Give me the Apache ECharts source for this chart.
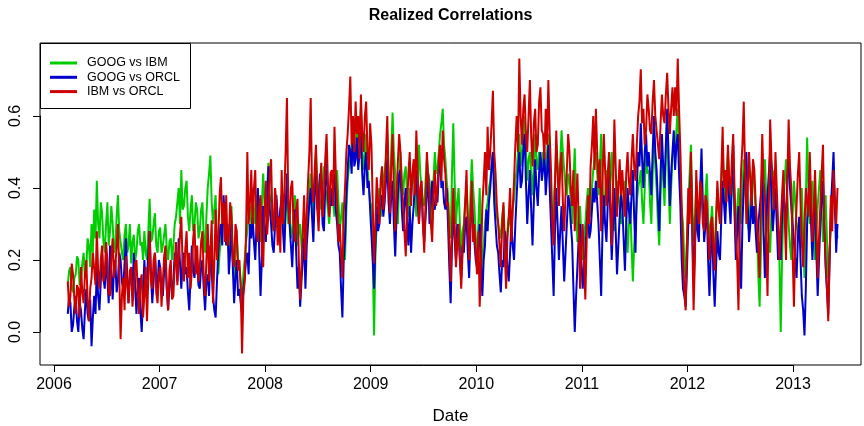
<!DOCTYPE html>
<html>
<head>
<meta charset="utf-8">
<title>Realized Correlations</title>
<script src="https://cdn.jsdelivr.net/npm/echarts@6/dist/echarts.min.js"></script>
<style>
  html, body { margin: 0; padding: 0; background: #ffffff; }
  #chart { width: 864px; height: 426px; }
</style>
</head>
<body>
<div id="chart"></div>
<script>
// Realized correlation series, one value every 0.0125 year from 2006.13 (20 values per row = one quarter year)
const startYear = 2006.13;
const stepYears = 0.0125;

// GOOG vs IBM
const googIbm = [
  0.13,0.17,0.18,0.12,0.11,0.15,0.16,0.21,0.20,0.13,0.14,0.19,0.22,0.15,0.17,0.26,0.24,0.18,0.30,0.22,   // 2006.13
  0.34,0.26,0.42,0.30,0.26,0.36,0.33,0.25,0.22,0.30,0.36,0.24,0.28,0.35,0.30,0.22,0.24,0.32,0.38,0.28,
  0.28,0.22,0.20,0.27,0.30,0.22,0.24,0.30,0.19,0.25,0.27,0.20,0.22,0.28,0.30,0.24,0.25,0.20,0.28,0.22,
  0.20,0.28,0.37,0.25,0.26,0.30,0.33,0.24,0.22,0.28,0.29,0.22,0.24,0.27,0.30,0.23,0.20,0.25,0.26,0.20,
  0.24,0.30,0.32,0.36,0.40,0.30,0.45,0.34,0.35,0.40,0.42,0.32,0.28,0.34,0.38,0.28,0.30,0.36,0.34,0.26,   // 2007.13
  0.28,0.34,0.36,0.26,0.22,0.32,0.40,0.44,0.49,0.36,0.30,0.34,0.38,0.24,0.16,0.22,0.26,0.30,0.35,0.28,
  0.30,0.26,0.22,0.30,0.35,0.20,0.14,0.22,0.26,0.20,0.18,0.14,0.10,0.16,0.20,0.25,0.28,0.32,0.35,0.30,
  0.40,0.34,0.30,0.38,0.36,0.30,0.25,0.35,0.44,0.36,0.32,0.40,0.47,0.36,0.38,0.30,0.28,0.36,0.34,0.28,
  0.30,0.34,0.36,0.30,0.26,0.34,0.40,0.30,0.32,0.26,0.28,0.34,0.38,0.30,0.24,0.28,0.30,0.24,0.20,0.28,   // 2008.13
  0.26,0.30,0.35,0.40,0.44,0.36,0.30,0.42,0.50,0.42,0.40,0.36,0.34,0.40,0.46,0.40,0.38,0.34,0.30,0.36,
  0.40,0.36,0.32,0.40,0.45,0.36,0.28,0.32,0.36,0.26,0.20,0.34,0.42,0.46,0.48,0.52,0.55,0.48,0.50,0.56,
  0.50,0.56,0.62,0.50,0.45,0.50,0.55,0.46,0.40,0.36,0.35,0.20,-0.01,0.22,0.30,0.36,0.40,0.32,0.34,0.42,
  0.42,0.48,0.55,0.44,0.36,0.50,0.61,0.50,0.44,0.36,0.30,0.42,0.50,0.42,0.38,0.44,0.46,0.38,0.32,0.40,   // 2009.13
  0.38,0.42,0.45,0.38,0.32,0.44,0.52,0.44,0.40,0.36,0.35,0.42,0.48,0.44,0.42,0.36,0.30,0.42,0.50,0.44,
  0.45,0.50,0.55,0.58,0.62,0.52,0.48,0.42,0.38,0.30,0.26,0.44,0.58,0.42,0.30,0.36,0.40,0.30,0.22,0.28,
  0.30,0.36,0.40,0.32,0.25,0.38,0.48,0.40,0.35,0.26,0.20,0.30,0.40,0.26,0.15,0.24,0.30,0.34,0.36,0.40,
  0.42,0.46,0.50,0.42,0.36,0.32,0.30,0.28,0.26,0.32,0.35,0.26,0.20,0.28,0.32,0.30,0.28,0.34,0.37,0.42,   // 2010.13
  0.45,0.50,0.55,0.46,0.50,0.56,0.60,0.50,0.42,0.48,0.50,0.44,0.38,0.46,0.55,0.48,0.45,0.50,0.50,0.46,
  0.50,0.46,0.42,0.50,0.55,0.42,0.35,0.30,0.30,0.42,0.52,0.46,0.40,0.48,0.56,0.50,0.45,0.40,0.38,0.44,
  0.42,0.36,0.30,0.42,0.51,0.36,0.25,0.30,0.35,0.26,0.20,0.26,0.30,0.36,0.40,0.34,0.32,0.40,0.45,0.48,
  0.50,0.44,0.38,0.46,0.55,0.42,0.30,0.38,0.45,0.40,0.36,0.44,0.50,0.36,0.28,0.36,0.42,0.38,0.35,0.30,   // 2011.13
  0.32,0.38,0.42,0.30,0.22,0.30,0.36,0.24,0.14,0.24,0.30,0.36,0.40,0.42,0.45,0.36,0.30,0.40,0.50,0.44,
  0.45,0.36,0.30,0.44,0.55,0.46,0.40,0.30,0.24,0.38,0.50,0.42,0.35,0.50,0.60,0.42,0.30,0.40,0.48,0.52,
  0.50,0.56,0.62,0.50,0.40,0.34,0.30,0.20,0.15,0.26,0.36,0.44,0.52,0.36,0.25,0.32,0.40,0.34,0.30,0.36,
  0.38,0.34,0.30,0.38,0.44,0.32,0.25,0.30,0.35,0.26,0.20,0.32,0.40,0.34,0.30,0.42,0.50,0.42,0.36,0.44,   // 2012.13
  0.50,0.42,0.35,0.40,0.45,0.34,0.25,0.34,0.40,0.34,0.30,0.40,0.48,0.40,0.36,0.30,0.28,0.36,0.42,0.46,
  0.40,0.34,0.28,0.16,0.07,0.22,0.35,0.42,0.48,0.38,0.30,0.26,0.22,0.34,0.45,0.40,0.38,0.34,0.30,0.20,
  0.00,0.20,0.35,0.42,0.48,0.38,0.30,0.24,0.20,0.32,0.42,0.36,0.30,0.28,0.25,0.32,0.40,0.26,0.15,0.36,
  0.54,0.40,0.30,0.36,0.42,0.30,0.20,0.28,0.35,0.40,0.45,0.34,0.25,0.32,0.38,0.26,0.15,0.22,0.30,0.36,   // 2013.13
  0.40,0.34,0.30,0.26
];

// GOOG vs ORCL
const googOrcl = [
  0.05,0.10,0.08,0.00,0.02,0.07,0.10,0.03,0.00,0.08,0.06,0.01,-0.02,0.06,0.12,0.05,0.03,0.09,-0.04,0.04,   // 2006.13
  0.10,0.05,0.18,0.10,0.06,0.14,0.22,0.15,0.12,0.20,0.15,0.08,0.24,0.16,0.09,0.18,0.20,0.11,0.14,0.22,
  0.20,0.14,0.12,0.19,0.26,0.16,0.08,0.15,0.18,0.10,0.22,0.13,0.05,0.12,0.15,0.06,0.00,0.10,0.20,0.12,
  0.15,0.22,0.28,0.16,0.08,0.14,0.22,0.15,0.12,0.20,0.18,0.11,0.10,0.17,0.20,0.12,0.06,0.13,0.16,0.10,
  0.14,0.22,0.20,0.14,0.26,0.19,0.12,0.20,0.22,0.16,0.18,0.11,0.06,0.15,0.24,0.17,0.15,0.22,0.20,0.13,      // 2007.13
  0.12,0.18,0.20,0.12,0.06,0.14,0.16,0.10,0.24,0.17,0.10,0.06,0.04,0.14,0.22,0.28,0.30,0.24,0.38,0.30,
  0.24,0.30,0.16,0.22,0.30,0.18,0.08,0.15,0.20,0.10,0.12,0.08,0.05,0.12,0.15,0.20,0.22,0.16,0.30,0.26,
  0.32,0.25,0.20,0.30,0.40,0.22,0.10,0.20,0.35,0.28,0.25,0.36,0.46,0.34,0.30,0.24,0.22,0.30,0.38,0.32,
  0.28,0.34,0.38,0.28,0.22,0.34,0.44,0.36,0.30,0.24,0.18,0.28,0.34,0.22,0.12,0.18,0.07,0.14,0.20,0.26,      // 2008.13
  0.12,0.24,0.30,0.36,0.40,0.32,0.25,0.38,0.46,0.34,0.36,0.44,0.42,0.30,0.28,0.40,0.48,0.38,0.33,0.40,
  0.35,0.40,0.44,0.34,0.30,0.24,0.22,0.12,0.04,0.20,0.26,0.38,0.45,0.52,0.50,0.44,0.58,0.46,0.48,0.54,
  0.45,0.50,0.56,0.44,0.38,0.46,0.50,0.40,0.42,0.34,0.27,0.20,0.12,0.24,0.35,0.28,0.30,0.36,0.38,0.32,
  0.36,0.42,0.48,0.36,0.30,0.38,0.42,0.30,0.21,0.32,0.38,0.44,0.45,0.34,0.28,0.36,0.40,0.30,0.24,0.35,      // 2009.13
  0.22,0.30,0.35,0.42,0.45,0.36,0.30,0.38,0.40,0.30,0.25,0.32,0.38,0.44,0.30,0.36,0.42,0.35,0.34,0.40,
  0.36,0.44,0.50,0.40,0.42,0.36,0.34,0.40,0.30,0.18,0.08,0.24,0.35,0.26,0.20,0.30,0.28,0.20,0.15,0.24,
  0.22,0.30,0.32,0.22,0.15,0.28,0.38,0.30,0.25,0.20,0.18,0.24,0.30,0.18,0.10,0.20,0.24,0.34,0.28,0.36,
  0.40,0.46,0.50,0.36,0.30,0.24,0.22,0.16,0.11,0.20,0.18,0.28,0.25,0.18,0.14,0.22,0.30,0.24,0.20,0.30,      // 2010.13
  0.38,0.45,0.50,0.40,0.42,0.50,0.55,0.42,0.30,0.38,0.45,0.34,0.24,0.36,0.48,0.40,0.35,0.44,0.50,0.42,
  0.45,0.50,0.38,0.44,0.52,0.40,0.30,0.20,0.10,0.28,0.40,0.30,0.20,0.28,0.35,0.24,0.14,0.22,0.30,0.38,
  0.36,0.30,0.25,0.12,0.00,0.10,0.18,0.26,0.30,0.20,0.12,0.18,0.22,0.30,0.35,0.26,0.28,0.34,0.40,0.36,
  0.42,0.36,0.30,0.20,0.10,0.28,0.38,0.30,0.25,0.36,0.45,0.32,0.20,0.30,0.40,0.28,0.16,0.24,0.32,0.38,      // 2011.13
  0.35,0.26,0.17,0.30,0.40,0.34,0.30,0.38,0.45,0.32,0.22,0.40,0.50,0.46,0.58,0.48,0.40,0.50,0.55,0.46,
  0.50,0.44,0.38,0.50,0.60,0.50,0.45,0.36,0.28,0.44,0.55,0.46,0.40,0.52,0.62,0.50,0.35,0.44,0.50,0.56,
  0.45,0.52,0.55,0.44,0.35,0.20,0.12,0.10,0.07,0.18,0.30,0.38,0.45,0.30,0.14,0.24,0.35,0.28,0.25,0.40,
  0.51,0.36,0.25,0.30,0.35,0.20,0.10,0.22,0.30,0.16,0.07,0.18,0.28,0.22,0.20,0.32,0.42,0.36,0.30,0.40,      // 2012.13
  0.45,0.36,0.30,0.42,0.52,0.34,0.20,0.28,0.35,0.22,0.12,0.30,0.40,0.46,0.50,0.36,0.25,0.30,0.38,0.30,
  0.35,0.28,0.22,0.30,0.30,0.38,0.45,0.28,0.15,0.30,0.38,0.44,0.50,0.36,0.28,0.34,0.40,0.30,0.20,0.28,
  0.20,0.32,0.40,0.34,0.30,0.42,0.50,0.40,0.35,0.30,0.25,0.20,0.15,0.26,0.32,0.20,0.10,0.06,-0.01,0.12,
  0.30,0.38,0.45,0.30,0.20,0.30,0.38,0.22,0.10,0.20,0.30,0.36,0.42,0.30,0.18,0.12,0.05,0.20,0.35,0.42,      // 2013.13
  0.50,0.36,0.22,0.30
];

// IBM vs ORCL
const ibmOrcl = [
  0.14,0.07,0.10,0.19,0.16,0.09,0.05,0.13,0.12,0.04,0.18,0.11,0.08,0.16,0.20,0.09,0.03,0.12,0.15,0.22,      // 2006.13
  0.22,0.13,0.28,0.17,0.12,0.20,0.24,0.14,0.16,0.25,0.20,0.11,0.10,0.21,0.26,0.15,0.18,0.24,0.30,0.16,
  -0.02,0.10,0.15,0.06,0.21,0.13,0.08,0.17,0.18,0.07,0.12,0.19,0.20,0.11,0.05,0.14,0.16,0.04,0.10,0.18,
  0.03,0.15,0.28,0.14,0.12,0.20,0.22,0.11,0.08,0.16,0.18,0.07,0.14,0.21,0.24,0.12,0.06,0.17,0.20,0.09,
  0.10,0.19,0.25,0.13,0.20,0.27,0.32,0.18,0.14,0.23,0.28,0.15,0.22,0.12,0.17,0.26,0.30,0.16,0.24,0.14,      // 2007.13
  0.18,0.25,0.28,0.15,0.10,0.20,0.30,0.14,0.22,0.31,0.08,0.19,0.34,0.20,0.26,0.38,0.43,0.30,0.36,0.25,
  0.38,0.24,0.26,0.36,0.32,0.20,0.18,0.30,0.28,0.17,0.20,0.12,-0.06,0.10,0.14,0.27,0.50,0.30,0.36,0.45,
  0.30,0.40,0.45,0.28,0.25,0.35,0.38,0.22,0.18,0.33,0.42,0.27,0.33,0.44,0.48,0.31,0.28,0.40,0.36,0.24,
  0.32,0.22,0.45,0.30,0.38,0.50,0.65,0.36,0.30,0.40,0.42,0.30,0.25,0.34,0.37,0.20,0.09,0.18,0.28,0.38,      // 2008.13
  0.20,0.33,0.42,0.50,0.65,0.40,0.36,0.45,0.52,0.34,0.28,0.40,0.47,0.32,0.38,0.48,0.55,0.42,0.32,0.44,
  0.45,0.35,0.57,0.44,0.36,0.25,0.30,0.22,0.15,0.33,0.40,0.50,0.55,0.62,0.71,0.52,0.60,0.50,0.64,0.55,
  0.60,0.48,0.66,0.55,0.50,0.60,0.64,0.50,0.45,0.58,0.52,0.35,0.19,0.30,0.43,0.36,0.30,0.42,0.46,0.34,
  0.38,0.50,0.60,0.42,0.33,0.46,0.55,0.40,0.28,0.38,0.47,0.55,0.50,0.40,0.36,0.28,0.21,0.35,0.44,0.50,      // 2009.13
  0.35,0.44,0.48,0.38,0.56,0.45,0.30,0.40,0.42,0.30,0.22,0.36,0.50,0.42,0.38,0.30,0.25,0.38,0.45,0.35,
  0.40,0.48,0.52,0.42,0.56,0.48,0.44,0.35,0.36,0.25,0.14,0.28,0.40,0.30,0.18,0.24,0.30,0.20,0.12,0.22,
  0.28,0.36,0.45,0.30,0.20,0.32,0.42,0.25,0.30,0.22,0.16,0.28,0.07,0.20,0.35,0.42,0.50,0.38,0.57,0.45,
  0.50,0.58,0.67,0.50,0.44,0.35,0.30,0.24,0.18,0.30,0.36,0.22,0.12,0.26,0.32,0.40,0.25,0.34,0.42,0.52,      // 2010.13
  0.60,0.50,0.76,0.60,0.52,0.62,0.66,0.55,0.50,0.60,0.70,0.54,0.46,0.58,0.62,0.50,0.52,0.64,0.68,0.56,
  0.55,0.48,0.62,0.52,0.70,0.55,0.45,0.30,0.24,0.40,0.56,0.44,0.35,0.46,0.50,0.36,0.28,0.38,0.45,0.55,
  0.50,0.40,0.35,0.45,0.28,0.36,0.44,0.30,0.12,0.24,0.30,0.20,0.09,0.25,0.38,0.30,0.46,0.52,0.60,0.45,
  0.62,0.50,0.40,0.48,0.28,0.42,0.55,0.45,0.35,0.44,0.50,0.36,0.24,0.40,0.59,0.46,0.32,0.40,0.48,0.38,      // 2011.13
  0.45,0.38,0.32,0.44,0.50,0.42,0.38,0.48,0.55,0.46,0.42,0.52,0.60,0.64,0.73,0.58,0.62,0.52,0.56,0.66,
  0.62,0.56,0.55,0.64,0.70,0.60,0.60,0.52,0.48,0.58,0.66,0.60,0.58,0.66,0.72,0.62,0.55,0.62,0.68,0.60,
  0.68,0.60,0.76,0.62,0.50,0.35,0.20,0.12,0.06,0.25,0.40,0.30,0.50,0.26,0.06,0.20,0.45,0.36,0.30,0.42,
  0.40,0.30,0.28,0.38,0.36,0.26,0.20,0.30,0.32,0.24,0.17,0.30,0.42,0.34,0.30,0.44,0.57,0.40,0.45,0.36,      // 2012.13
  0.52,0.42,0.38,0.48,0.55,0.40,0.28,0.20,0.06,0.30,0.45,0.52,0.64,0.44,0.30,0.40,0.50,0.42,0.35,0.48,
  0.45,0.36,0.30,0.24,0.15,0.38,0.55,0.42,0.38,0.25,0.10,0.35,0.59,0.48,0.42,0.34,0.50,0.40,0.30,0.20,
  0.30,0.38,0.45,0.32,0.20,0.42,0.59,0.46,0.40,0.22,0.07,0.25,0.35,0.44,0.50,0.36,0.25,0.18,0.30,0.40,
  0.40,0.32,0.50,0.36,0.25,0.34,0.45,0.30,0.15,0.26,0.35,0.44,0.52,0.30,0.20,0.12,0.03,0.20,0.38,0.28,      // 2013.13
  0.45,0.36,0.30,0.40
];

const seriesNames = ['GOOG vs IBM', 'GOOG vs ORCL', 'IBM vs ORCL'];
const seriesValues = [googIbm, googOrcl, ibmOrcl];
const seriesColors = ['#00CD00', '#0000CD', '#CD0000'];

const yearTicks = [2006, 2007, 2008, 2009, 2010, 2011, 2012, 2013];
const corrTicks = [0.0, 0.2, 0.4, 0.6];

const FONT = '"Liberation Sans", Arial, Helvetica, sans-serif';

const chart = echarts.init(document.getElementById('chart'), null, { renderer: 'canvas' });

// Plot box in pixels
const box = { left: 40, top: 43, width: 821, height: 322 };

const series = seriesValues.map((vals, s) => ({
  name: seriesNames[s],
  type: 'line',
  xAxisIndex: 0,
  yAxisIndex: 0,
  showSymbol: false,
  symbol: 'none',
  silent: true,
  z: 2 + s,
  lineStyle: { color: seriesColors[s], width: 2 },
  data: vals.map((v, i) => [startYear + i * stepYears, v])
}));

// legend drawn as graphic elements in the top-left corner of the plot box
const legendX = box.left, legendY = box.top;
const legendGraphics = [
  {
    type: 'rect',
    shape: { x: legendX + 0.5, y: legendY + 0.5, width: 150, height: 65 },
    style: { fill: '#ffffff', stroke: '#000000', lineWidth: 1 },
    z: 100
  }
];
seriesNames.forEach((name, s) => {
  const cy = legendY + 20 + s * 14.3;
  legendGraphics.push({
    type: 'line',
    shape: { x1: legendX + 10, y1: cy, x2: legendX + 37, y2: cy },
    style: { stroke: seriesColors[s], lineWidth: 3 },
    z: 101
  });
  legendGraphics.push({
    type: 'text',
    x: legendX + 47, y: cy,
    style: { text: name, font: '12.5px ' + FONT, fill: '#000', textAlign: 'left', textVerticalAlign: 'middle' },
    z: 101
  });
});

const option = {
  animation: false,
  backgroundColor: '#ffffff',
  grid: [
    { left: box.left, top: box.top, width: box.width, height: box.height,
      show: true, borderColor: '#000000', borderWidth: 1, backgroundColor: 'transparent', containLabel: false },
    // y-axis strip spanning 0.0 .. 0.6
    { left: box.left, top: 116, width: 1, height: 216, containLabel: false },
    // x-axis strip spanning 2006 .. 2013
    { left: 54, top: box.top + box.height - 1, width: 739, height: 1, containLabel: false }
  ],
  xAxis: [
    { gridIndex: 0, type: 'value', min: 2005.867, max: 2013.64, show: false },
    { gridIndex: 1, type: 'value', show: false },
    {
      gridIndex: 2, type: 'value', position: 'bottom',
      min: yearTicks[0], max: yearTicks[yearTicks.length - 1], interval: 1,
      axisLine: { show: true, lineStyle: { color: '#000', width: 1 } },
      axisTick: { show: true, inside: false, length: 7, lineStyle: { color: '#000', width: 1 } },
      axisLabel: { show: true, color: '#000', fontSize: 16, fontFamily: FONT, margin: 12,
                   formatter: v => String(Math.round(v)) },
      splitLine: { show: false }
    }
  ],
  yAxis: [
    { gridIndex: 0, type: 'value', min: -0.092, max: 0.803, show: false },
    {
      gridIndex: 1, type: 'value', position: 'left',
      min: corrTicks[0], max: corrTicks[corrTicks.length - 1], interval: 0.2,
      axisLine: { show: true, lineStyle: { color: '#000', width: 1 } },
      axisTick: { show: true, inside: false, length: 7, lineStyle: { color: '#000', width: 1 } },
      axisLabel: { show: true, color: '#000', fontSize: 16, fontFamily: FONT, margin: 16, rotate: 90,
                   formatter: v => v.toFixed(1) },
      splitLine: { show: false }
    },
    { gridIndex: 2, type: 'value', show: false }
  ],
  series: series,
  graphic: [
    {
      type: 'text', x: box.left + box.width / 2, y: 16,
      style: { text: 'Realized Correlations', font: 'bold 16px ' + FONT, fill: '#000',
               textAlign: 'center', textVerticalAlign: 'middle' }
    },
    {
      type: 'text', x: box.left + box.width / 2, y: 416,
      style: { text: 'Date', font: '17px ' + FONT, fill: '#000',
               textAlign: 'center', textVerticalAlign: 'middle' }
    }
  ].concat(legendGraphics)
};

chart.setOption(option);
</script>
</body>
</html>
